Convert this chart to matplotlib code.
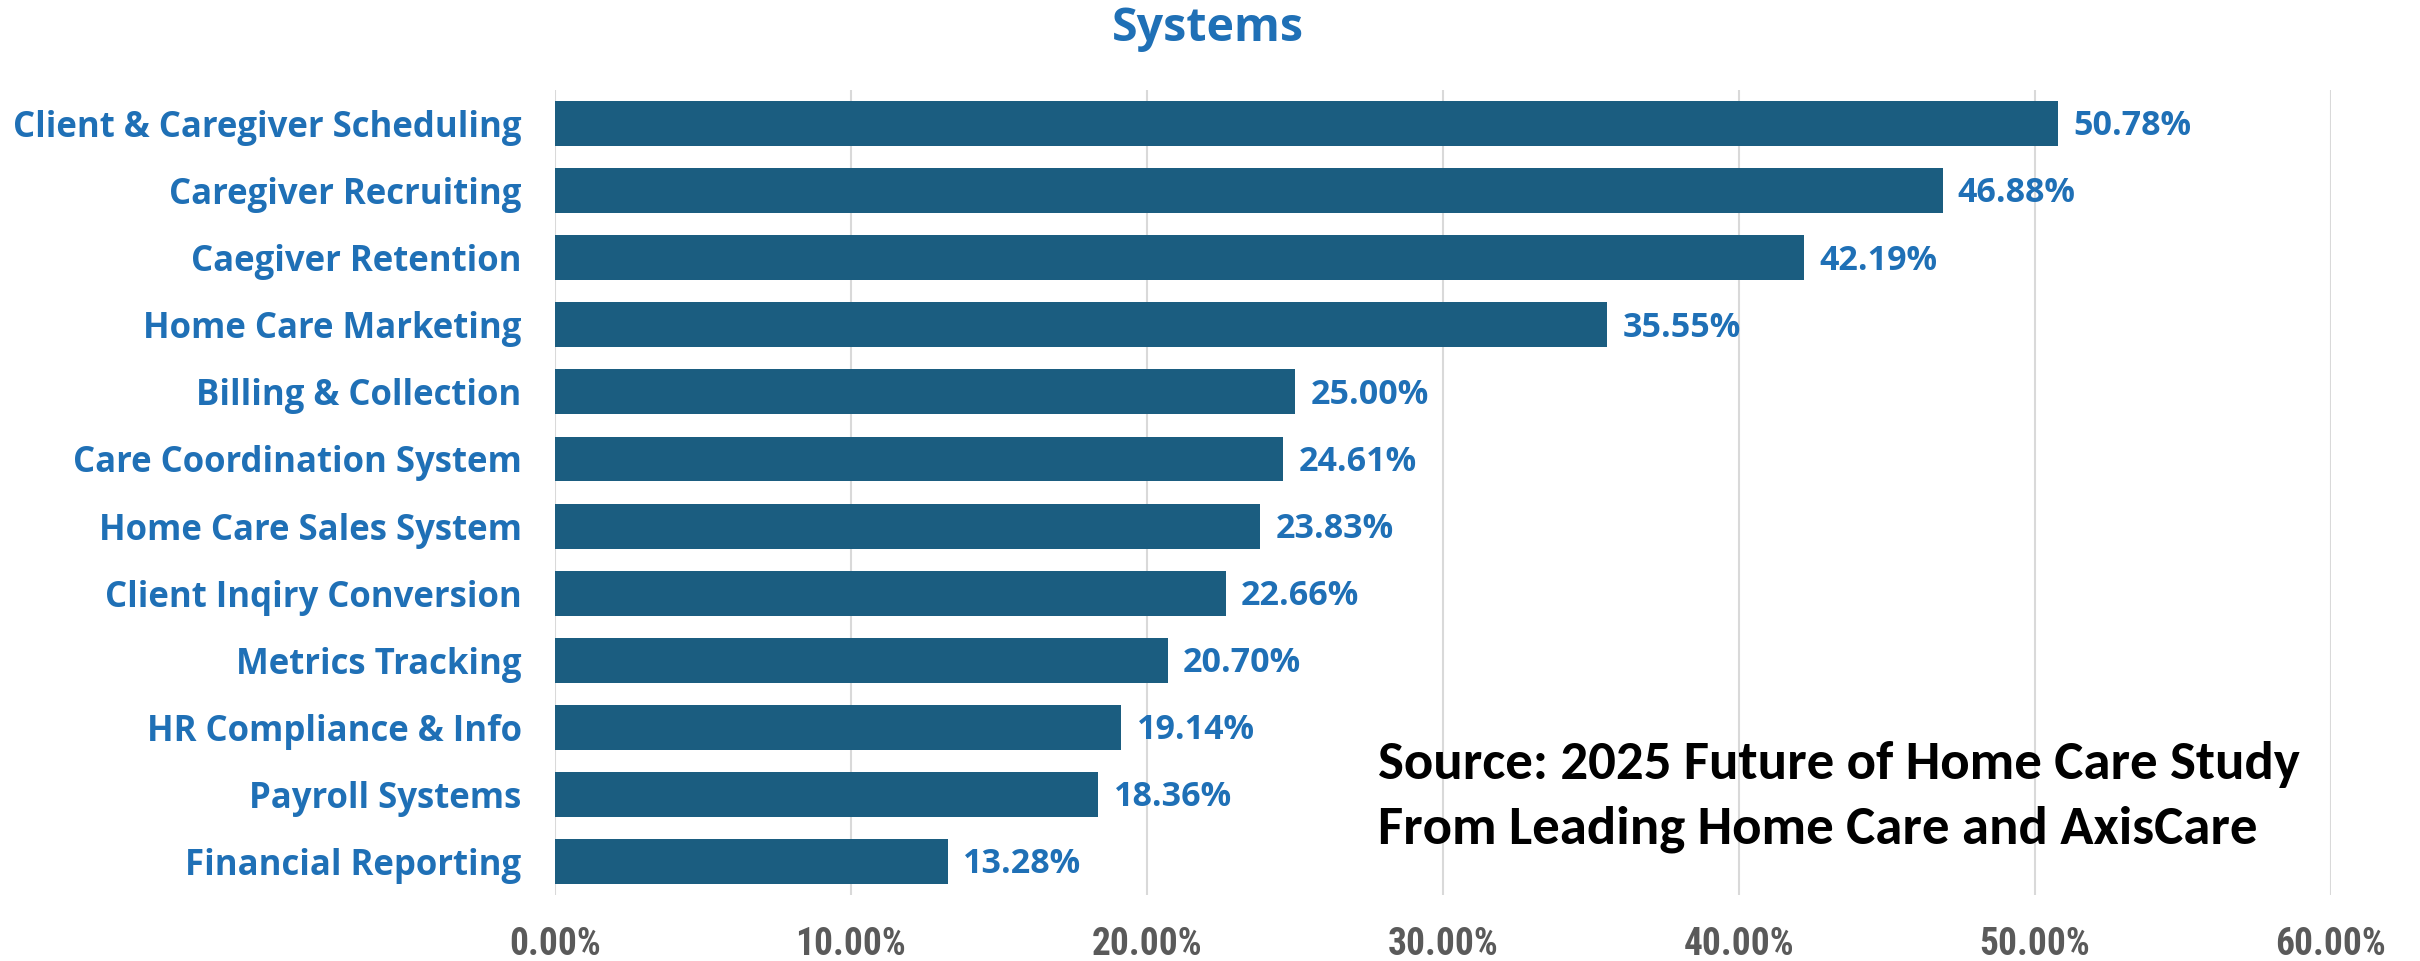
import matplotlib
matplotlib.use("Agg")
import matplotlib.pyplot as plt
from matplotlib import font_manager
from matplotlib.ticker import FuncFormatter

categories = [
    "Client & Caregiver Scheduling",
    "Caregiver Recruiting",
    "Caegiver Retention",
    "Home Care Marketing",
    "Billing & Collection",
    "Care Coordination System",
    "Home Care Sales System",
    "Client Inqiry Conversion",
    "Metrics Tracking",
    "HR Compliance & Info",
    "Payroll Systems",
    "Financial Reporting",
]
values = [50.78, 46.88, 42.19, 35.55, 25.00, 24.61, 23.83, 22.66, 20.70, 19.14, 18.36, 13.28]
x_ticks = [0, 10, 20, 30, 40, 50, 60]
title = "Systems"
source_lines = ["Source: 2025 Future of Home Care Study",
                "From Leading Home Care and AxisCare"]

installed = {f.name for f in font_manager.fontManager.ttflist}


def pick(*names):
    for n in names:
        if n in installed:
            return n
    return "DejaVu Sans"


tick_font = pick("Roboto Condensed", "Roboto", "Liberation Sans")
label_font = pick("Open Sans", "Roboto", "Liberation Sans")
source_font = pick("Carlito", "Liberation Sans Narrow", "Open Sans")

BAR = "#1b5d80"
BLUE = "#1f70b6"
GRAY = "#5a5a5a"
GRID = "#d9d9d9"

fig = plt.figure(figsize=(24.2, 9.61), dpi=100)
ax = fig.add_axes([0.2293, 0.0687, 0.9632 - 0.2293, 0.9063 - 0.0687])

ypos = list(range(len(categories)))
bars = ax.barh(ypos, values, height=0.67, color=BAR, zorder=3)

ax.set_xlim(0, 60)
ax.set_ylim(len(categories) - 0.5, -0.5)
ax.set_xticks(x_ticks)
ax.xaxis.set_major_formatter(FuncFormatter(lambda v, p: f"{v:.2f}%"))
ax.set_yticks(ypos)
ax.set_yticklabels(categories)

ax.grid(axis="x", color=GRID, linewidth=1.5, zorder=0)
for s in ax.spines.values():
    s.set_visible(False)
ax.tick_params(axis="both", length=0)
ax.tick_params(axis="x", pad=22, labelsize=27, labelcolor=GRAY)
ax.tick_params(axis="y", pad=24, labelsize=25, labelcolor=BLUE)
for lab in ax.get_xticklabels():
    lab.set_fontfamily(tick_font)
    lab.set_fontweight("bold")
for lab in ax.get_yticklabels():
    lab.set_fontfamily(label_font)
    lab.set_fontweight("bold")

for rect, v in zip(bars, values):
    ax.annotate(f"{v:.2f}%", xy=(v, rect.get_y() + rect.get_height() / 2),
                xytext=(11, -2), textcoords="offset points",
                ha="left", va="center", fontsize=24.5, fontweight="bold",
                color=BLUE, family=label_font)

fig.text(1208 / 2420, 1 - 28 / 961, title, ha="center", va="center",
         fontsize=33.5, fontweight="bold", color=BLUE, family=label_font)

fig.text(1378 / 2420, 1 - 764 / 961, source_lines[0], ha="left", va="center",
         fontsize=39.5, fontweight="bold", color="black", family=source_font)
fig.text(1378 / 2420, 1 - 829 / 961, source_lines[1], ha="left", va="center",
         fontsize=39.5, fontweight="bold", color="black", family=source_font)

fig.savefig("out.png", dpi=100, facecolor="white")
